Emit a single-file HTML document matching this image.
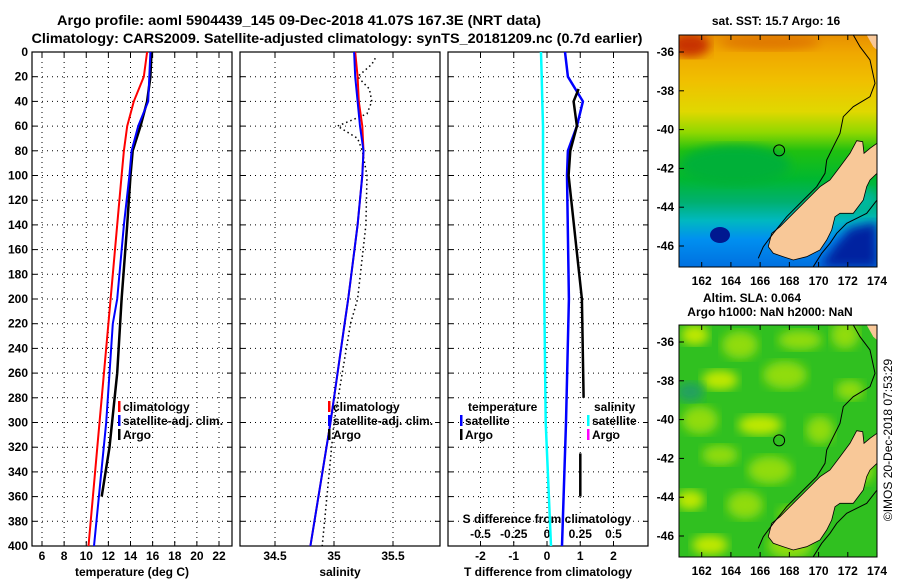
<!DOCTYPE html>
<html><head><meta charset="utf-8"><style>
html,body{margin:0;padding:0;background:#fff;}
svg{display:block;font-family:"Liberation Sans",sans-serif;font-weight:bold;}
</style></head><body>
<svg id="c" width="900" height="580" viewBox="0 0 900 580">
<defs>
<linearGradient id="sst" x1="0" y1="0" x2="0" y2="1">
<stop offset="0" stop-color="#e89000"/><stop offset="0.08" stop-color="#f0a800"/>
<stop offset="0.2" stop-color="#f0c000"/><stop offset="0.33" stop-color="#e0d800"/>
<stop offset="0.42" stop-color="#90d800"/><stop offset="0.5" stop-color="#20c010"/>
<stop offset="0.62" stop-color="#00b830"/><stop offset="0.72" stop-color="#00b070"/>
<stop offset="0.8" stop-color="#00b8c0"/><stop offset="0.88" stop-color="#0090f0"/>
<stop offset="1" stop-color="#0070e0"/></linearGradient>
<filter id="bl"><feGaussianBlur stdDeviation="5"/></filter>
<clipPath id="m1"><rect x="679" y="35" width="198" height="232"/></clipPath>
<clipPath id="m2"><rect x="679" y="325" width="198" height="232"/></clipPath>
</defs>
<text x="299" y="25" text-anchor="middle" font-size="14" textLength="484" lengthAdjust="spacingAndGlyphs">Argo profile: aoml 5904439_145 09-Dec-2018 41.07S 167.3E (NRT data)</text>
<text x="337" y="43" text-anchor="middle" font-size="14" textLength="611" lengthAdjust="spacingAndGlyphs">Climatology: CARS2009. Satellite-adjusted climatology: synTS_20181209.nc (0.7d earlier)</text>
<g id="plots"></g>
<g id="maps"></g>
<text transform="translate(892,440) rotate(-90)" text-anchor="middle" font-size="12" font-weight="normal">©IMOS 20-Dec-2018 07:53:29</text>
</svg>
<script>
// ---- data ----
const depthTicks=[0,20,40,60,80,100,120,140,160,180,200,220,240,260,280,300,320,340,360,380,400];
const tempTicks=[6,8,10,12,14,16,18,20,22];
const salTicks=[34.5,35,35.5];
const tdiffTicks=[-2,-1,0,1,2];
const sdiffTicks=[-0.5,-0.25,0,0.25,0.5];
const sdiffLabels=["-0.5","-0.25","0","0.25","0.5"];
const climDepth=[0,20,40,60,80,100,140,200,220,300,400];
const climT=[15.5,15.2,14.3,13.7,13.4,13.2,12.8,12.2,12.0,11.2,10.2];
const satT=[15.8,15.7,15.6,14.7,14.1,13.9,13.4,12.8,12.4,11.8,10.7];
const argoTDepth=[0,20,40,60,80,100,140,200,260,320,360];
const argoT=[15.9,15.8,15.5,14.9,14.2,14.0,13.7,13.2,12.8,12.1,11.4];
const climS=[35.18,35.2,35.21,35.24,35.25,35.24,35.2,35.12,35.09,34.97,34.8];
const satS=[35.17,35.18,35.2,35.22,35.25,35.24,35.2,35.12,35.09,34.97,34.8];
const argoSDepth=[5,10,20,30,40,50,60,70,80,100,140,200,220,300,400];
const argoS=[35.35,35.32,35.2,35.3,35.32,35.28,35.03,35.2,35.24,35.28,35.27,35.2,35.14,35.0,34.9];
const tdiffDepth=[0,20,40,60,80,100,200,300,400];
const satTdiff=[0.54,0.63,1.08,0.9,0.63,0.6,0.66,0.57,0.45];
const argoTdiffDepth=[30,40,60,80,100,200,280];
const argoTdiff=[0.95,0.8,0.9,0.7,0.65,1.05,1.1];
const argoTdiffDepth2=[325,360];
const argoTdiff2=[1.0,1.0];
const satSdiff=[-0.045,-0.04,-0.035,-0.03,-0.03,-0.03,-0.02,-0.01,0.03];
const lonTicks=[162,164,166,168,170,172,174];
const latTicks=[-36,-38,-40,-42,-44,-46];

const NS='http://www.w3.org/2000/svg';
function mk(tag,attrs,parent,txt){const e=document.createElementNS(NS,tag);for(const k in attrs)e.setAttribute(k,attrs[k]);if(txt!==undefined)e.textContent=txt;parent.appendChild(e);return e;}
const P=document.getElementById('plots');
const Y0=52,Y1=546;
const yD=d=>Y0+d*(Y1-Y0)/400;
const xT=t=>42+(t-6)*177/16;
const xS=s=>275+(s-34.5)*118;
const xTd=v=>547+v*33.25;
const xSd=v=>547+v*133;
const panels=[{x:32,n:'temperature-panel'},{x:240,n:'salinity-panel'},{x:448,n:'difference-panel'}];
const vgrid=[tempTicks.map(xT),salTicks.map(xS),tdiffTicks.map(xTd)];
panels.forEach((p,i)=>{
  const g=mk('g',{},P);
  
  
  depthTicks.forEach(d=>{if(d>0&&d<400){const l=mk('line',{x1:p.x,x2:p.x+200,y1:yD(d),y2:yD(d),stroke:'#000','stroke-width':1,'stroke-dasharray':'1 4'},g);}
    mk('line',{x1:p.x,x2:p.x+5,y1:yD(d),y2:yD(d),stroke:'#000'},g);mk('line',{x1:p.x+195,x2:p.x+200,y1:yD(d),y2:yD(d),stroke:'#000'},g);});
  vgrid[i].forEach(x=>{const l=mk('line',{x1:x,x2:x,y1:Y0,y2:Y1,stroke:'#000','stroke-dasharray':'1 4'},g);
    mk('line',{x1:x,x2:x,y1:Y1,y2:Y1-5,stroke:'#000'},g);mk('line',{x1:x,x2:x,y1:Y0,y2:Y0+5,stroke:'#000'},g);});
  const r=mk('rect',{x:p.x,y:Y0,width:200,height:Y1-Y0,fill:'none',stroke:'#000','stroke-width':1.2},g);
  
});
depthTicks.forEach(d=>{const t=mk('text',{x:28,y:yD(d)+4,'text-anchor':'end','font-size':12},P,String(d));});
function ticks(arr,fx,labels,y){arr.forEach((v,i)=>{const t=mk('text',{x:fx(v),y:y,'text-anchor':'middle','font-size':12},P,labels?labels[i]:String(v));});}
ticks(tempTicks,xT,null,560);ticks(salTicks,xS,null,560);ticks(tdiffTicks,xTd,null,560);
ticks(sdiffTicks,xSd,sdiffLabels,538);
[['temperature (deg C)',132,'temperature-axis-title'],['salinity',340,'salinity-axis-title'],['T difference from climatology',548,'tdiff-axis-title']].forEach(a=>{const t=mk('text',{x:a[1],y:576,'text-anchor':'middle','font-size':12},P,a[0]);});
{const t=mk('text',{x:547,y:523,'text-anchor':'middle','font-size':12},P,'S difference from climatology');}
function line(ds,vs,fx,color,name,w,dash){const pts=ds.map((d,i)=>fx(vs[i]).toFixed(1)+','+yD(d).toFixed(1)).join(' ');
  const a={points:pts,fill:'none',stroke:color,'stroke-width':w||2};if(dash)a['stroke-dasharray']=dash;const e=mk('polyline',a,P);}
line(climDepth,climT,xT,'#f00','temp-climatology-line');
line(argoTDepth,argoT,xT,'#000','temp-argo-line',2.5);
line(climDepth,satT,xT,'#00f','temp-satellite-line');
line(argoSDepth,argoS,xS,'#000','sal-argo-line',1.5,'1.5 3');
line(climDepth,climS,xS,'#f00','sal-climatology-line');
line(climDepth,satS,xS,'#00f','sal-satellite-line');
line(tdiffDepth,satSdiff,xSd,'#0ff','sdiff-satellite-line',2.5);
line(tdiffDepth,satTdiff,xTd,'#00f','tdiff-satellite-line',2.5);
line(argoTdiffDepth,argoTdiff,xTd,'#000','tdiff-argo-line',2.5);
line(argoTdiffDepth2,argoTdiff2,xTd,'#000','tdiff-argo-line-deep',2.5);
function leg(x,y,color,label,name){const g=mk('g',{},P);
  mk('rect',{x:x,y:y-10,width:2.5,height:11,fill:color},g);mk('text',{x:x+5,y:y,'font-size':12},g,label);}
leg(118,411,'#f00','climatology','legend-climatology');leg(118,425,'#00f','satellite-adj. clim.','legend-satellite-adj');leg(118,439,'#000','Argo','legend-argo');
leg(328,411,'#f00','climatology','legend-sal-climatology');leg(328,425,'#00f','satellite-adj. clim.','legend-sal-satellite-adj');leg(328,439,'#000','Argo','legend-sal-argo');
{const t=mk('text',{x:468,y:411,'font-size':12},P,'temperature');}
{const t=mk('text',{x:594,y:411,'font-size':12},P,'salinity');}
leg(460,425,'#00f','satellite','legend-tdiff-satellite');leg(460,439,'#000','Argo','legend-tdiff-argo');
leg(587,425,'#0ff','satellite','legend-sdiff-satellite');leg(587,439,'#f0f','Argo','legend-sdiff-argo');

// ---- maps ----
const M=document.getElementById('maps');
const mx=lon=>701.7+(lon-162)*14.61;
const my=(lat,off)=>52+(-36-lat)*19.4+off;
const landPx=[[650,422],[668,425],[672,460],[690,445],[711,430],[711,520],[690,540],[680,560],[670,600],[640,640],[600,640],[585,650],[575,690],[560,720],[540,750],[500,770],[460,780],[430,770],[400,760],[385,740],[395,700],[420,680],[460,640],[500,600],[540,560],[570,540],[600,500],[630,460]];
const coastPx=[[640,105],[660,140],[690,180],[705,250],[690,290],[640,320],[610,350],[600,400],[580,440],[560,480],[555,520],[530,560],[490,600],[440,650],[400,700],[370,740],[355,775]];
const coast2Px=[[711,600],[680,640],[620,670],[590,700],[570,730],[545,760],[520,800]];
function pts(a,off){return a.map(p=>(640+p[0]/3).toFixed(1)+','+(p[1]/3+off).toFixed(1)).join(' ');}
[0,290].forEach((off,mi)=>{
  const g=mk('g',{'clip-path':'url(#m'+(mi+1)+')'},M);
  
  
  if(mi===0){
    mk('rect',{x:679,y:35,width:198,height:232,fill:'url(#sst)'},g);
    mk('ellipse',{cx:690,cy:45,rx:20,ry:12,fill:'#c83000',filter:'url(#bl)'},g);
    mk('ellipse',{cx:770,cy:42,rx:50,ry:8,fill:'#e07800',filter:'url(#bl)'},g);
    mk('ellipse',{cx:735,cy:165,rx:55,ry:20,fill:'#00b038',filter:'url(#bl)'},g);
    mk('ellipse',{cx:720,cy:235,rx:10,ry:8,fill:'#001890'},g);
    mk('polygon',{points:'820,267 877,267 877,222 850,228 835,245',fill:'#0020a0',filter:'url(#bl)'},g);
    mk('ellipse',{cx:855,cy:200,rx:22,ry:12,fill:'#00b8a0',filter:'url(#bl)'},g);
  } else {
    mk('rect',{x:679,y:325,width:198,height:232,fill:'#30c020'},g);
    [[695,335],[740,345],[800,340],[845,335],[720,380],[785,375],[850,390],[700,420],[760,425],[820,430],[720,455],[770,470],[690,500],[745,505],[800,515],[860,470],[710,545],[790,545]].forEach((c,i)=>{
      mk('ellipse',{cx:c[0],cy:c[1],rx:14+(i%3)*4,ry:10+(i%2)*4,fill:i%4===0?'#c0e800':'#90dc10',filter:'url(#bl)'},g);});
    mk('ellipse',{cx:690,cy:392,rx:14,ry:10,fill:'#20a060',filter:'url(#bl)'},g);
  }
  const land=mk('polygon',{points:pts(landPx,off),fill:'#f8c898',stroke:'#000','stroke-width':0.8},g);
  
  mk('polygon',{points:pts([[680,105],[711,105],[711,150],[700,140]],off),fill:'#f8c898'},g);
  mk('polyline',{points:pts(coastPx,off),fill:'none',stroke:'#000','stroke-width':1},g);
  mk('polyline',{points:pts(coast2Px,off),fill:'none',stroke:'#000','stroke-width':1},g);
  const c=mk('circle',{cx:mx(167.3),cy:my(-41.07,off),r:5.5,fill:'none',stroke:'#000','stroke-width':1},g);
  
  const fr=mk('rect',{x:679,y:35+off,width:198,height:232,fill:'none',stroke:'#000'},M);
  
  lonTicks.forEach(l=>{mk('line',{x1:mx(l),x2:mx(l),y1:267+off,y2:262+off,stroke:'#000'},M);mk('line',{x1:mx(l),x2:mx(l),y1:35+off,y2:40+off,stroke:'#000'},M);
    const t=mk('text',{x:mx(l),y:285+off,'text-anchor':'middle','font-size':12},M,String(l));});
  latTicks.forEach(l=>{mk('line',{x1:679,x2:684,y1:my(l,off),y2:my(l,off),stroke:'#000'},M);
    const t=mk('text',{x:674,y:my(l,off)+4,'text-anchor':'end','font-size':12},M,String(l));});
});
[['sat. SST: 15.7 Argo: 16',776,25,'sst-map-title'],['Altim. SLA: 0.064',752,302,'sla-map-title'],['Argo h1000: NaN h2000: NaN',770,316,'sla-map-subtitle']].forEach(a=>{const t=mk('text',{x:a[1],y:a[2],'text-anchor':'middle','font-size':12},M,a[0]);});
</script>
</body></html>
